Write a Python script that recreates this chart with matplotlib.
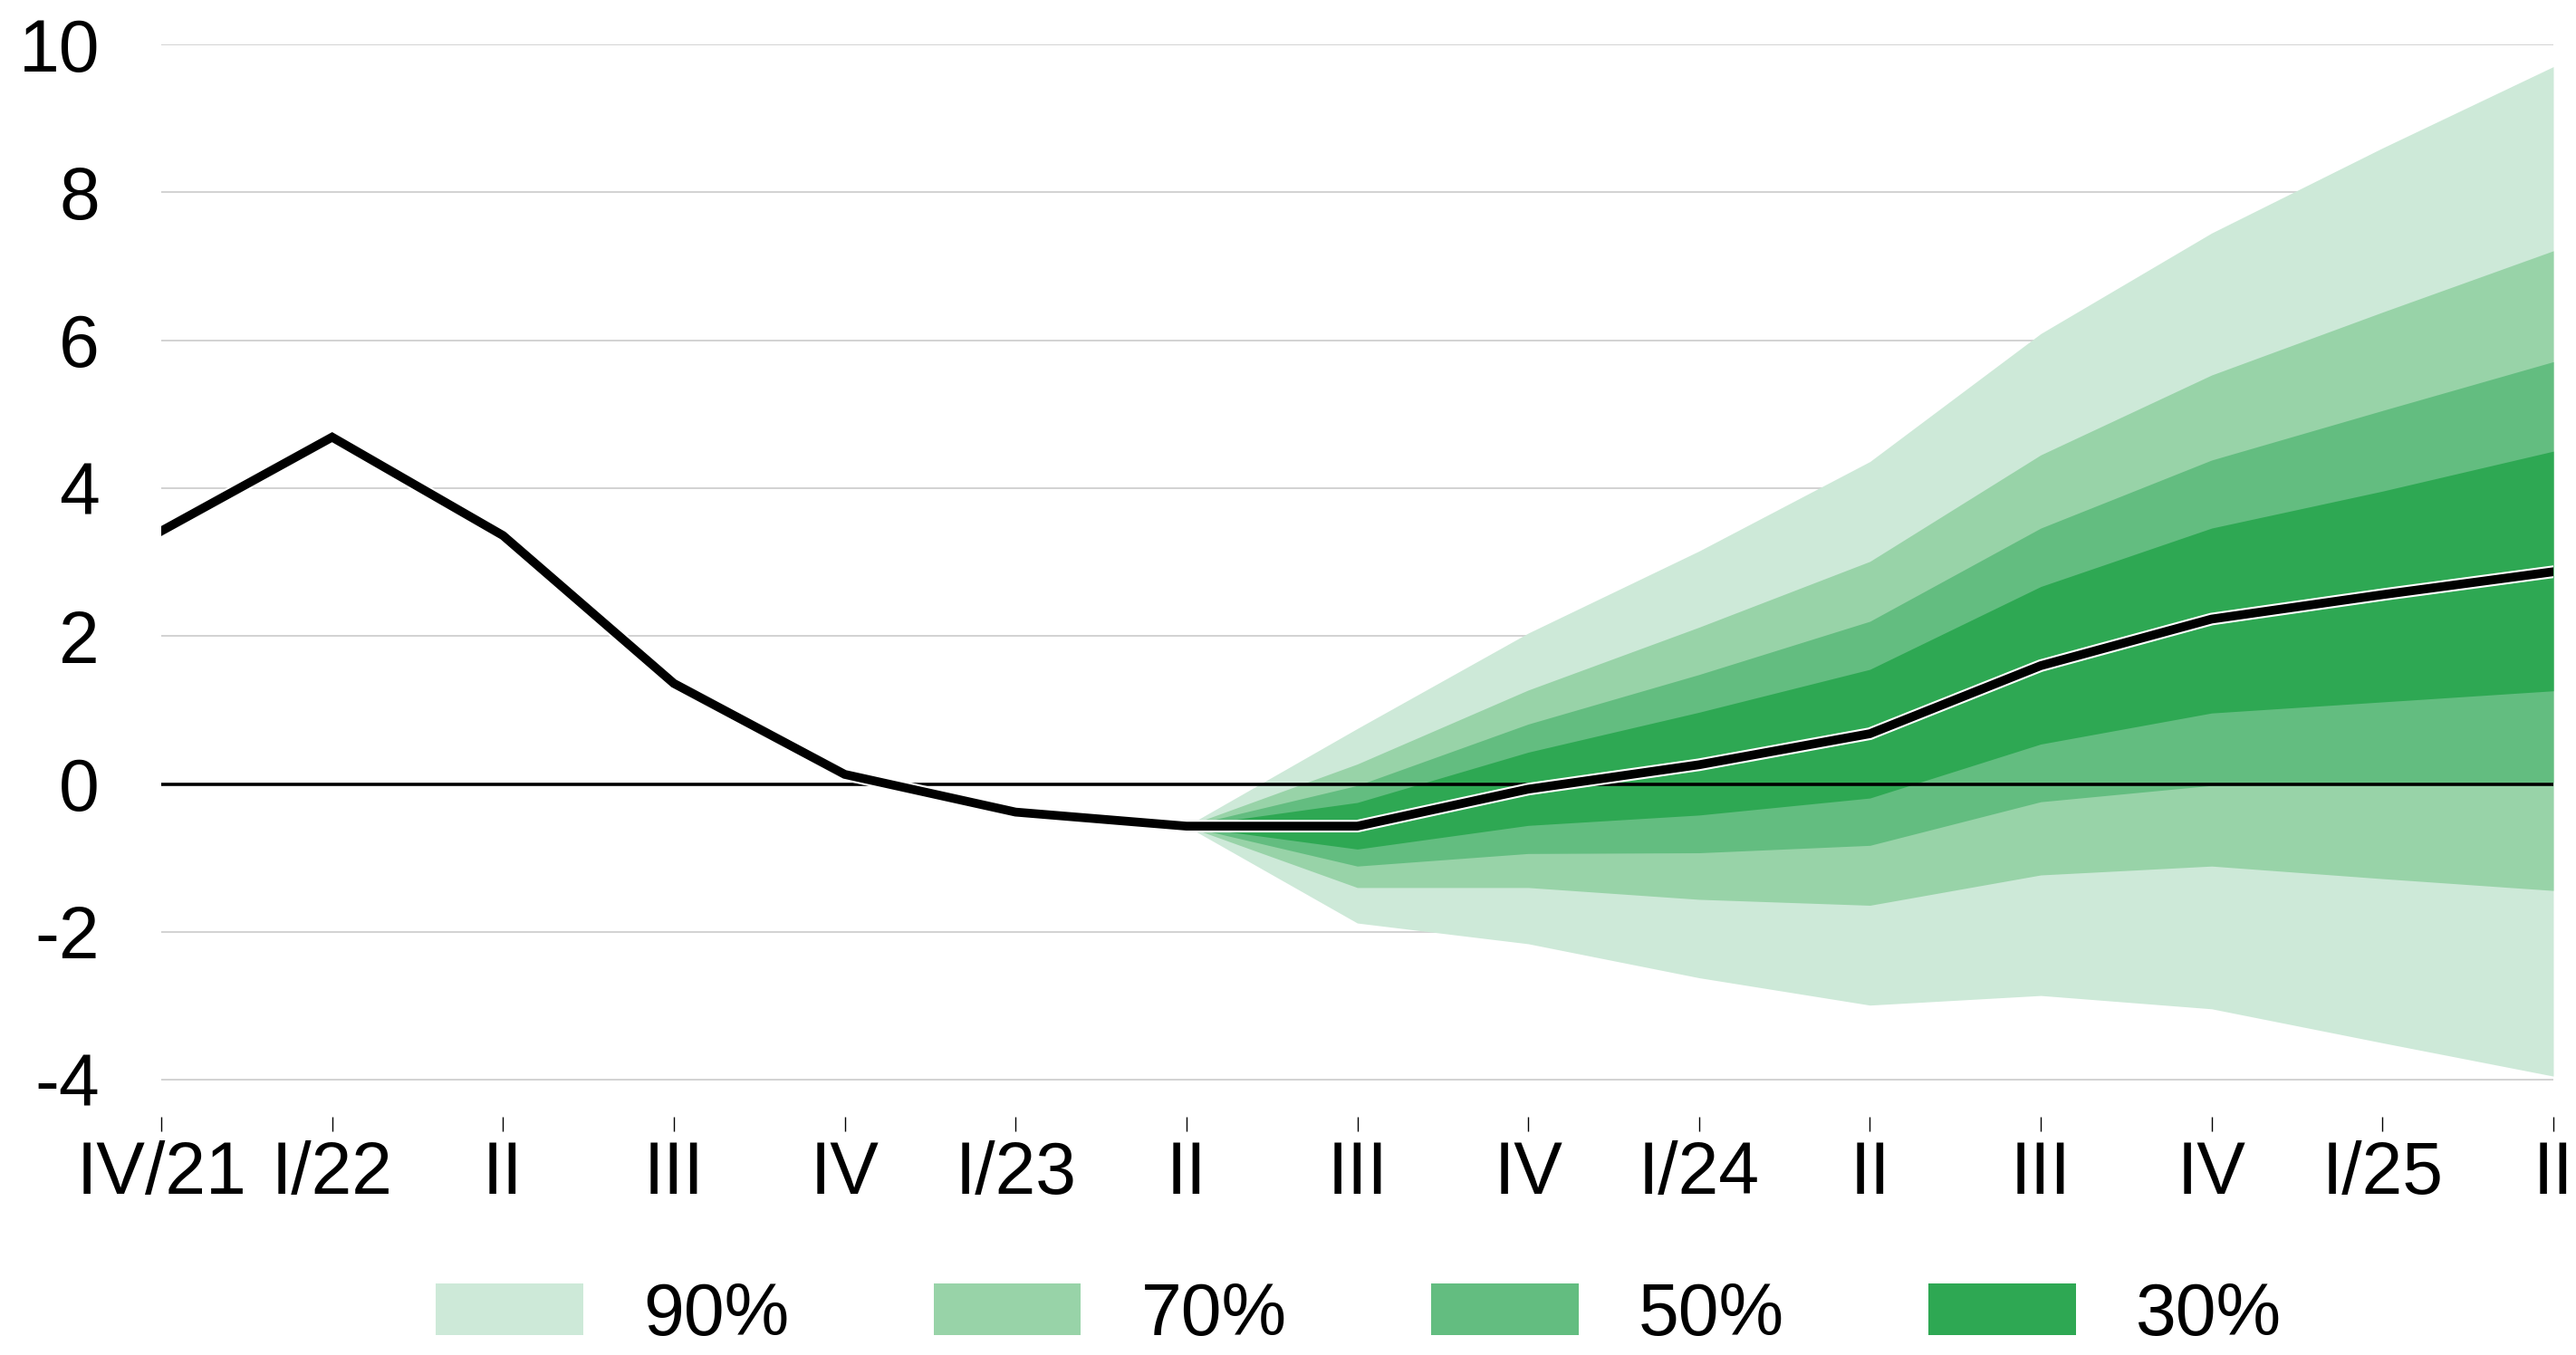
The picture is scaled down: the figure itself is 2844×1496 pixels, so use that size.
import matplotlib
matplotlib.use("Agg")
import matplotlib.pyplot as plt
import matplotlib.patheffects as pe
from matplotlib.patches import Patch

plt.rcParams['font.family'] = ['Liberation Sans', 'DejaVu Sans']

# quarters on the x axis
quarters = ["IV/21", "I/22", "II", "III", "IV", "I/23", "II", "III", "IV",
            "I/24", "II", "III", "IV", "I/25", "II"]

# central path (history + projection)
central = [3.42, 4.69, 3.36, 1.36, 0.13, -0.38, -0.57, -0.57, -0.07,
           0.26, 0.68, 1.60, 2.23, 2.56, 2.87]

# fan starts at II/23 (index 6)
fan_start = 6
upper_90 = [-0.57, 0.75, 2.04, 3.15, 4.36, 6.09, 7.45, 8.60, 9.70]
upper_70 = [-0.57, 0.27, 1.27, 2.12, 3.01, 4.45, 5.53, 6.38, 7.21]
upper_50 = [-0.57, -0.02, 0.81, 1.48, 2.20, 3.46, 4.38, 5.05, 5.71]
upper_30 = [-0.57, -0.25, 0.43, 0.97, 1.55, 2.67, 3.46, 3.96, 4.50]
lower_30 = [-0.57, -0.88, -0.56, -0.42, -0.19, 0.54, 0.96, 1.11, 1.26]
lower_50 = [-0.57, -1.11, -0.94, -0.93, -0.83, -0.24, -0.02, 0.00, 0.02]
lower_70 = [-0.57, -1.40, -1.40, -1.56, -1.64, -1.23, -1.11, -1.28, -1.44]
lower_90 = [-0.57, -1.88, -2.16, -2.62, -2.99, -2.86, -3.04, -3.50, -3.95]

band_labels = ["90%", "70%", "50%", "30%"]
band_colors = ["#cde9d8", "#98d3a8", "#63bd80", "#2ea853"]

FS = 58

fig = plt.figure(figsize=(28.44, 14.96), dpi=100)
ax = fig.add_axes([0.0626, 0.1758, 0.9286, 0.7914])

x_all = list(range(len(quarters)))
x_fan = x_all[fan_start:]

bands = [(lower_90, upper_90), (lower_70, upper_70),
         (lower_50, upper_50), (lower_30, upper_30)]
for (lo, hi), col in zip(bands, band_colors):
    ax.fill_between(x_fan, lo, hi, color=col, lw=0, zorder=2)

# zero line
ax.axhline(0, color="black", lw=2.6, zorder=3)

# central line with white outline
ax.plot(x_all, central, color="black", lw=7, zorder=4,
        solid_joinstyle="miter",
        path_effects=[pe.Stroke(linewidth=10, foreground="white"), pe.Normal()])

ax.set_xlim(0, len(quarters) - 1)
ax.set_ylim(-4.5, 10)
ax.set_yticks(range(-4, 11, 2))
ax.set_yticklabels([str(v) for v in range(-4, 11, 2)])
ax.set_xticks(x_all)
ax.set_xticklabels(quarters)

for v in range(-4, 11, 2):
    if v != 0:
        ax.axhline(v, color="#d2d2d2", lw=1.4, zorder=1)

for s in ax.spines.values():
    s.set_visible(False)

ax.tick_params(axis="y", length=0, pad=49, labelsize=FS)
ax.tick_params(axis="x", direction="out", length=11.5, width=1.0,
               color="black", pad=7, labelsize=FS)

handles = [Patch(facecolor=c, edgecolor="none") for c in band_colors]
fig.legend(handles, band_labels, loc="center", bbox_to_anchor=(0.5275, 0.029),
           ncol=4, frameon=False, fontsize=FS, handlelength=2.02,
           handleheight=0.71, handletextpad=0.82, columnspacing=1.98,
           borderpad=0, borderaxespad=0)

fig.savefig("out.png", dpi=100)
